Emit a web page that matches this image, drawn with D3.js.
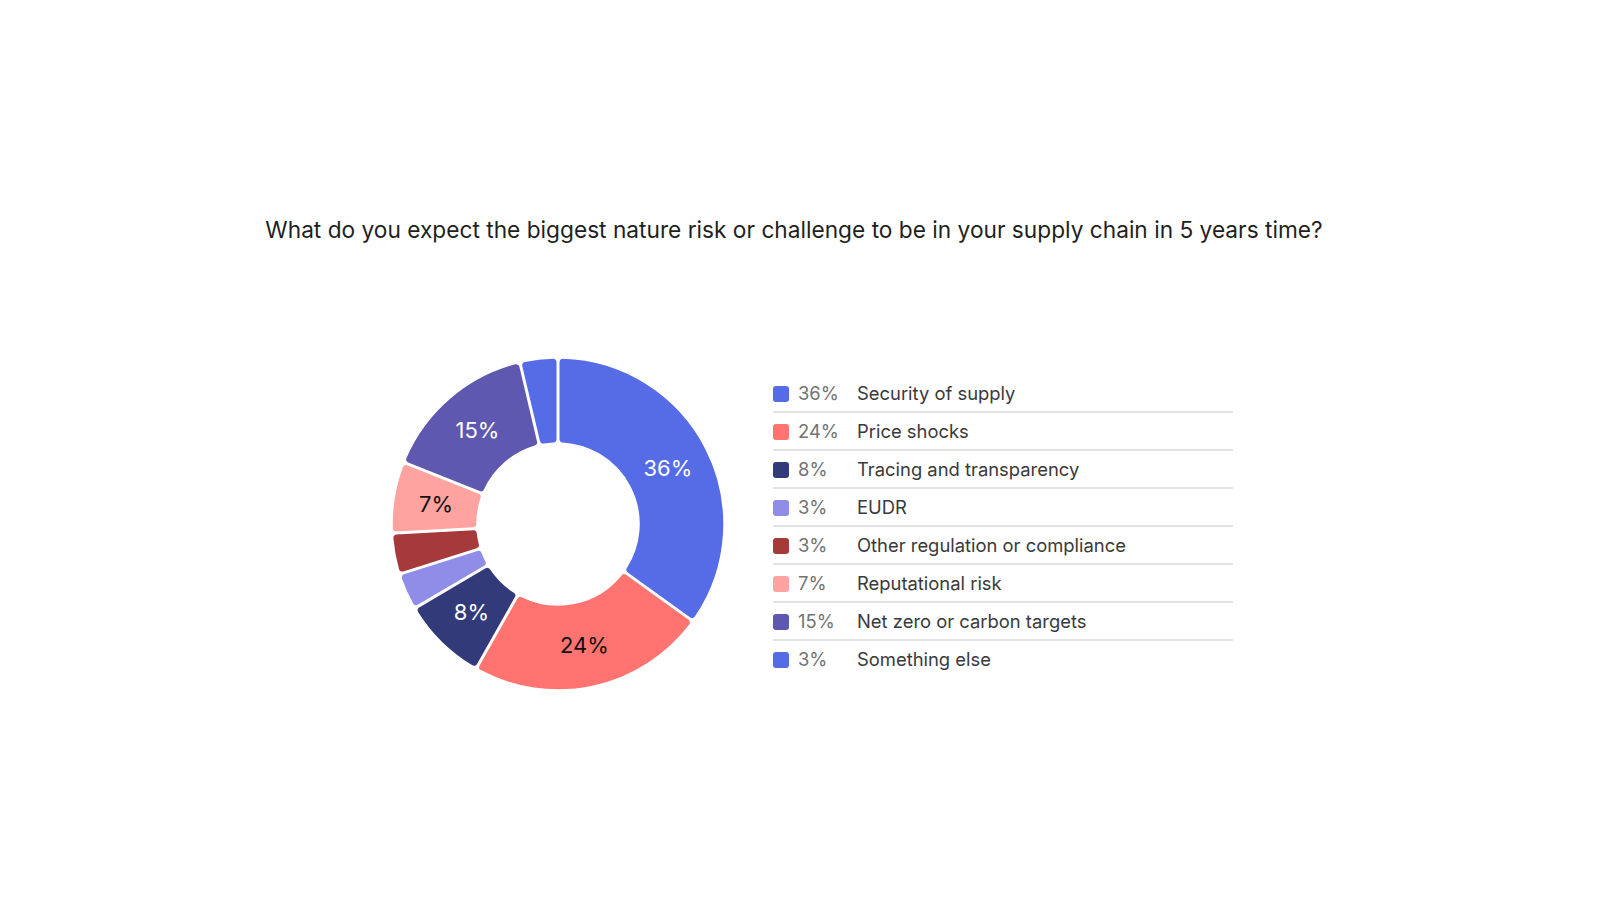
<!DOCTYPE html>
<html>
<head>
<meta charset="utf-8">
<script src="https://cdn.jsdelivr.net/npm/d3@7"></script>
<style>
  html, body { margin: 0; padding: 0; background: #fff; }
  svg { display: block; font-family: Inter, "Noto Sans", sans-serif; }
</style>
</head>
<body>
<svg id="chart" width="1600" height="900"></svg>
<script>
const titleText = "What do you expect the biggest nature risk or challenge to be in your supply chain in 5 years time?";
const categories = ["Security of supply", "Price shocks", "Tracing and transparency", "EUDR", "Other regulation or compliance", "Reputational risk", "Net zero or carbon targets", "Something else"];
// percentages as labelled in the chart
const values = [36, 24, 8, 3, 3, 7, 15, 3];
const sliceShares = [35.2, 23.4, 8.3, 3.5, 3.9, 6.9, 15.3, 3.6];
const colors = ["#566BE6", "#FF7470", "#323A7A", "#8F8DE8", "#A63A3A", "#FFA3A0", "#5F58B1", "#566BE6"];
const labelColors = ["#ffffff", "#111111", "#ffffff", null, null, "#111111", "#ffffff", null];

const svg = d3.select("#chart");

svg.append("text")
  .attr("x", 794).attr("y", 238)
  .attr("text-anchor", "middle")
  .attr("font-size", 22.7)
  .attr("fill", "#1f1f1f")
  .text(titleText);

const cx = 558, cy = 524, rOuter = 166, rInner = 81;
const g = svg.append("g").attr("transform", `translate(${cx},${cy})`);
const pie = d3.pie().sort(null).value(d => d).padAngle(0.008);
const arcs = pie(sliceShares);
const arc = d3.arc().innerRadius(rInner).outerRadius(rOuter).cornerRadius(4);
const labelArc = d3.arc().innerRadius((rInner + rOuter) / 2).outerRadius((rInner + rOuter) / 2);

g.selectAll("path").data(arcs).join("path")
  .attr("d", arc)
  .attr("fill", (d, i) => colors[i])
  .attr("stroke", "#fff")
  .attr("stroke-width", 1.5);

g.selectAll("text.lbl").data(arcs.filter((d, i) => labelColors[i])).join("text")
  .attr("class", "lbl")
  .attr("transform", d => `translate(${labelArc.centroid(d)})`)
  .attr("text-anchor", "middle")
  .attr("dy", "0.36em")
  .attr("font-size", 22)
  .attr("fill", d => labelColors[d.index])
  .text(d => values[d.index] + "%");

const rowY = d3.scaleLinear().domain([0, 1]).range([394, 432]);
const lg = svg.append("g");
const rows = lg.selectAll("g.row").data(categories).join("g")
  .attr("class", "row")
  .attr("transform", (d, i) => `translate(0,${rowY(i)})`);
rows.append("rect")
  .attr("x", 773).attr("y", -8).attr("width", 16).attr("height", 16)
  .attr("rx", 3)
  .attr("fill", (d, i) => colors[i]);
rows.append("text")
  .attr("x", 798).attr("dy", "0.32em")
  .attr("font-size", 18.4)
  .attr("fill", "#737373")
  .text((d, i) => values[i] + "%");
rows.append("text")
  .attr("x", 857).attr("dy", "0.32em")
  .attr("font-size", 18.4)
  .attr("fill", "#3a3a3a")
  .text(d => d);
rows.filter((d, i) => i < categories.length - 1).append("line")
  .attr("x1", 773).attr("x2", 1233)
  .attr("y1", 18).attr("y2", 18)
  .attr("stroke", "#e4e4e4")
  .attr("stroke-width", 2);
</script>
</body>
</html>
